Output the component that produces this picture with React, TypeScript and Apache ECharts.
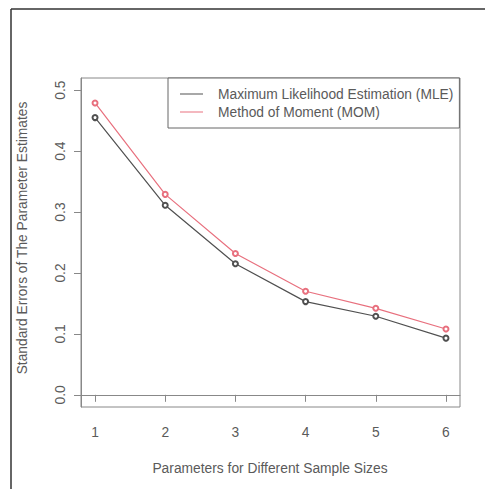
import React, { useEffect, useRef } from "react";
import * as echarts from "echarts";

const sampleSizes = [1, 2, 3, 4, 5, 6];
const mleValues = [0.455, 0.311, 0.215, 0.153, 0.129, 0.093];
const momValues = [0.479, 0.329, 0.232, 0.170, 0.142, 0.108];
const yTicks = [0, 0.1, 0.2, 0.3, 0.4, 0.5];
const xTicks = [1, 2, 3, 4, 5, 6];
const seriesNames = ["Maximum Likelihood Estimation (MLE)", "Method of Moment (MOM)"];
const xTitle = "Parameters for Different Sample Sizes";
const yTitle = "Standard Errors of The Parameter Estimates";

const FONT = "Liberation Sans, Arial, sans-serif";
const TXT = "#5a5a5a";
const AX = "#888";
const FS = 13.8;

export default function App() {
  const ref = useRef<HTMLDivElement>(null);
  useEffect(() => {
    if (!ref.current) return;
    const chart = echarts.init(ref.current, undefined, { renderer: "svg" });
    chart.setOption({
      animation: false,
      backgroundColor: "#fff",
      grid: {
        left: 81,
        top: 78,
        right: 25,
        bottom: 82,
        show: true,
        borderColor: AX,
        borderWidth: 1,
        backgroundColor: "transparent",
      },
      xAxis: {
        type: "value",
        position: "bottom",
        min: 0.8,
        max: 6.2,
        axisLine: { show: true, lineStyle: { color: AX } },
        splitLine: { show: false },
        axisTick: { show: true, inside: false, length: 7, lineStyle: { color: AX }, customValues: xTicks },
        axisLabel: {
          customValues: xTicks,
          margin: 18,
          color: TXT,
          fontSize: FS,
          fontFamily: FONT,
          formatter: (v: number) => String(v),
        },
      },
      yAxis: {
        type: "value",
        position: "left",
        min: -0.02,
        max: 0.52,
        axisLine: { show: true, lineStyle: { color: AX } },
        splitLine: { show: false },
        axisTick: { show: true, inside: false, length: 7, lineStyle: { color: AX }, customValues: yTicks },
        axisLabel: {
          customValues: yTicks,
          rotate: 90,
          margin: 14,
          color: TXT,
          fontSize: FS,
          fontFamily: FONT,
          formatter: (v: number) => v.toFixed(1),
        },
      },
      legend: {
        left: 168,
        top: 78,
        orient: "vertical",
        icon: "rect",
        itemWidth: 23,
        itemHeight: 1,
        itemGap: 4,
        padding: [9, 6, 9, 12],
        borderColor: "#666",
        borderWidth: 1,
        backgroundColor: "#fff",
        data: seriesNames,
        textStyle: { color: TXT, fontSize: FS, fontFamily: FONT, padding: [0, 0, 0, 10] },
      },
      series: [
        {
          name: seriesNames[0],
          type: "line",
          data: sampleSizes.map((x, i) => [x, mleValues[i]]),
          symbol: "emptyCircle",
          symbolSize: 5,
          color: "#505050",
          lineStyle: { width: 1.2, color: "#505050" },
          itemStyle: { color: "#505050", borderWidth: 1 },
        },
        {
          name: seriesNames[1],
          type: "line",
          data: sampleSizes.map((x, i) => [x, momValues[i]]),
          symbol: "emptyCircle",
          symbolSize: 5,
          color: "#e8707e",
          lineStyle: { width: 1.2, color: "#e8707e" },
          itemStyle: { color: "#e8707e", borderWidth: 1 },
        },
      ],
      graphic: [
        {
          type: "line",
          shape: { x1: 11, y1: 9, x2: 485, y2: 9 },
          style: { stroke: "#333", lineWidth: 1.5 },
        },
        {
          type: "line",
          shape: { x1: 11, y1: 9, x2: 11, y2: 489 },
          style: { stroke: "#333", lineWidth: 1.5 },
        },
        {
          type: "text",
          x: 270,
          y: 468,
          style: {
            text: xTitle,
            fill: TXT,
            fontSize: FS,
            fontFamily: FONT,
            align: "center",
            verticalAlign: "middle",
          },
        },
        {
          type: "text",
          x: 22,
          y: 238,
          rotation: Math.PI / 2,
          style: {
            text: yTitle,
            fill: TXT,
            fontSize: FS,
            fontFamily: FONT,
            align: "center",
            verticalAlign: "middle",
          },
        },
      ],
    });
    return () => chart.dispose();
  }, []);
  return (
    <div
      ref={ref}
      style={{ position: "fixed", left: 0, top: 0, width: 485, height: 489, background: "#fff" }}
    />
  );
}
